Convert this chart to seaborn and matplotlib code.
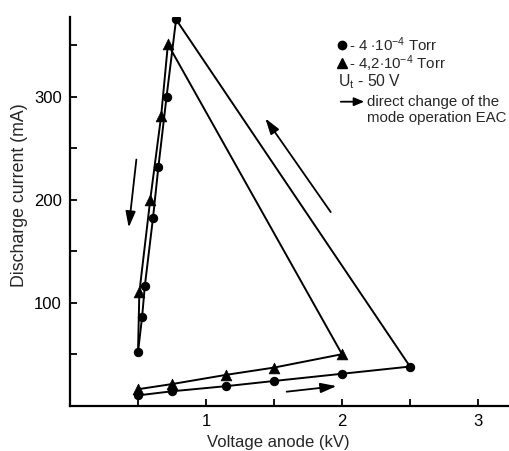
import matplotlib
matplotlib.use("Agg")
import matplotlib.pyplot as plt
import seaborn as sns
import pandas as pd
from matplotlib.lines import Line2D
from matplotlib.patches import FancyArrowPatch

# ---- data ----
# 4e-4 Torr (circles): rising branch then jump and falling branch
circ_v = [0.50, 0.75, 1.15, 1.50, 2.00, 2.50, 0.78, 0.71, 0.65, 0.61, 0.55, 0.53, 0.50]
circ_i = [10, 14, 19, 24, 31, 38, 375, 300, 232, 182, 116, 86, 52]
# 4.2e-4 Torr (triangles)
tri_v = [0.50, 0.75, 1.15, 1.50, 2.00, 0.72, 0.67, 0.59, 0.51]
tri_i = [16, 21, 30, 37, 50, 351, 281, 200, 110]
# triangle falling branch ends on the common point (no marker there)
tri_end_v = [0.50]
tri_end_i = [52]

x_ticks = [1, 2, 3]
y_ticks = [100, 200, 300]

sns.set_theme(style="ticks")
plt.rcParams['font.family'] = ['Liberation Sans', 'DejaVu Sans']
plt.rcParams['mathtext.fontset'] = 'custom'
plt.rcParams['mathtext.rm'] = 'Liberation Sans'
plt.rcParams['mathtext.it'] = 'Liberation Sans'

fig = plt.figure(figsize=(5.09, 4.51), dpi=100)
ax = fig.add_axes([70 / 509, 1 - 405.7 / 451, 1 - 70 / 509, (405.7 - 17) / 451])

df_c = pd.DataFrame({"v": circ_v, "i": circ_i})
sns.lineplot(data=df_c, x="v", y="i", sort=False, ax=ax, color="black",
             linewidth=1.4, marker="o", markersize=6, markeredgecolor="black",
             markerfacecolor="black", estimator=None)

df_t = pd.DataFrame({"v": tri_v + tri_end_v, "i": tri_i + tri_end_i})
sns.lineplot(data=df_t, x="v", y="i", sort=False, ax=ax, color="black",
             linewidth=1.4, estimator=None)
sns.scatterplot(x=tri_v, y=tri_i, ax=ax, color="black", marker="^", s=60,
                edgecolor="black", linewidth=0.5, zorder=5)

ax.set_xlim(0, 439 / 136)
ax.set_ylim(0, 377.4)
ax.set_xticks(x_ticks)
ax.set_xticklabels([str(t) for t in x_ticks])
ax.set_xticks([0.5, 1.5, 2.5], minor=True)
ax.set_yticks(y_ticks)
ax.set_yticklabels([str(t) for t in y_ticks])
ax.set_yticks([50, 150, 250, 350], minor=True)
ax.tick_params(which="both", direction="in", length=5, width=1.3,
               labelsize=12, colors="black", pad=6)
for s in ["top", "right"]:
    ax.spines[s].set_visible(False)
for s in ["left", "bottom"]:
    ax.spines[s].set_linewidth(1.6)
    ax.spines[s].set_color("black")
ax.set_xlabel("Voltage anode (kV)", fontsize=12, va="center")
ax.xaxis.set_label_coords((278 - 70) / 439, (405.7 - 442) / 388.7)
ax.set_ylabel("Discharge current (mA)", fontsize=12.8, va="center")
ax.yaxis.set_label_coords((20 - 70) / 439, (405.7 - 195) / 388.7)

arrow_kw = dict(arrowstyle="-|>,head_length=0.8,head_width=0.25", color="black", lw=1.3,
                shrinkA=0, shrinkB=0)
ax.annotate("", xy=(0.432, 173), xytext=(0.488, 239), arrowprops=arrow_kw)
ax.annotate("", xy=(1.436, 279), xytext=(1.917, 188), arrowprops=arrow_kw)
ax.annotate("", xy=(1.96, 19), xytext=(1.593, 13.6), arrowprops=arrow_kw)

# ---- legend block ----
fs = 10.8
def fx(px):
    return px / 509
def fy(py):
    return 1 - py / 451

fig.add_artist(Line2D([fx(341.7)], [fy(45)], marker="o", color="black", markersize=6,
                      transform=fig.transFigure))
fig.text(fx(349), fy(45), r"- 4 $\cdot$10$^{-4}$ Torr", fontsize=fs, va="center", ha="left")
fig.add_artist(Line2D([fx(341.7)], [fy(63.3)], marker="^", color="black", markersize=7.5,
                      transform=fig.transFigure))
fig.text(fx(349), fy(63.3), r"- 4,2$\cdot$10$^{-4}$ Torr", fontsize=fs, va="center", ha="left")
fig.text(fx(338), fy(82), r"U$_{\mathrm{t}}$ - 50 V", fontsize=fs + 0.5, va="center", ha="left")
fig.add_artist(FancyArrowPatch(
    (fx(338), fy(101.7)), (fx(367), fy(101.7)), transform=fig.transFigure,
    arrowstyle="-|>,head_length=0.6,head_width=0.25", color="black", lw=1.3,
    mutation_scale=10))
fig.text(fx(367), fy(101.7), "direct change of the", fontsize=fs, va="center", ha="left")
fig.text(fx(367), fy(118), "mode operation EAC", fontsize=fs, va="center", ha="left")

fig.savefig("out.png", dpi=100)
